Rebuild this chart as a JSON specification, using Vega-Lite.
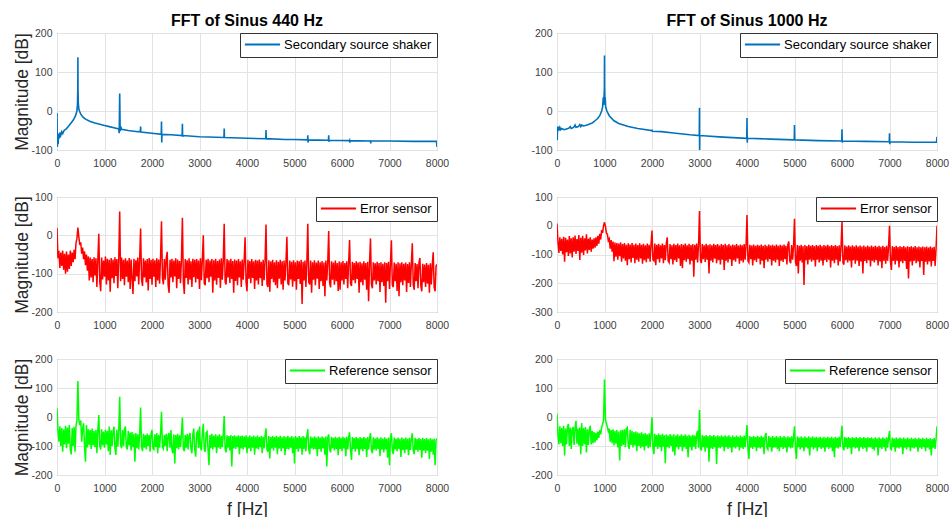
{
"$schema": "https://vega.github.io/schema/vega-lite/v6.json",
"background": "white",
"padding": {"left": 13, "top": 12, "right": 5, "bottom": 0},
"columns": 2,
"spacing": {"row": 47, "column": 120},
"bounds": "flush",
"resolve": {"scale": {"color": "independent", "x": "independent", "y": "independent"}, "legend": {"color": "independent"}, "axis": {"x": "independent", "y": "independent"}},
"config": {
  "font": "Liberation Sans",
  "view": {"stroke": "#808080", "strokeWidth": 1},
  "axis": {"grid": true, "gridColor": "#e3e3e3", "gridWidth": 1, "domain": false, "ticks": false, "labelFont": "Liberation Sans", "labelFontSize": 10.5, "labelColor": "#3c3c3c", "titleFont": "Liberation Sans", "titleFontSize": 17.5, "titleFontWeight": "normal", "titleColor": "#262626"},
  "axisX": {"labelPadding": 8.5, "titlePadding": 6, "labelFlush": false},
  "axisY": {"labelPadding": 5, "titlePadding": -1},
  "title": {"font": "Liberation Sans", "fontSize": 16, "fontWeight": "bold", "color": "#000000", "anchor": "middle", "offset": -1},
  "legend": {"orient": "top-right", "offset": 0, "padding": 5, "strokeColor": "#333333", "fillColor": "white", "labelFont": "Liberation Sans", "labelFontSize": 13, "labelColor": "#000000", "symbolType": "M-4.4,0H4.4", "symbolSize": 64, "symbolStrokeWidth": 2, "symbolOffset": 11, "labelOffset": 15, "title": null}
},
"datasets": {
"s440": [
{"f":0,"m":-5},{"f":8,"m":-92},{"f":16,"m":-60},{"f":24,"m":-85},{"f":32,"m":-58},{"f":48,"m":-70},{"f":64,"m":-55},{"f":80,"m":-62},{"f":100,"m":-53},{"f":120,"m":-58},{"f":150,"m":-50},{"f":200,"m":-45},{"f":250,"m":-38},{"f":300,"m":-30},{"f":350,"m":-22},{"f":390,"m":-12},{"f":420,"m":0},{"f":432,"m":20},{"f":438,"m":60},{"f":440,"m":138},{"f":442,"m":60},{"f":448,"m":20},{"f":460,"m":5},{"f":480,"m":-2},{"f":500,"m":-8},{"f":550,"m":-16},{"f":600,"m":-21},{"f":700,"m":-27},{"f":800,"m":-31},{"f":900,"m":-34},{"f":1000,"m":-37},{"f":1100,"m":-40},{"f":1200,"m":-43},{"f":1300,"m":-46},{"f":1310,"m":-57},{"f":1320,"m":45},{"f":1330,"m":-52},{"f":1340,"m":-40},{"f":1360,"m":-47},{"f":1500,"m":-50},{"f":1700,"m":-53},{"f":1755,"m":-53},{"f":1760,"m":-40},{"f":1765,"m":-54},{"f":2000,"m":-57},{"f":2195,"m":-60},{"f":2200,"m":-27},{"f":2205,"m":-81},{"f":2210,"m":-60},{"f":2400,"m":-61},{"f":2635,"m":-63},{"f":2640,"m":-33},{"f":2645,"m":-66},{"f":2650,"m":-63},{"f":3000,"m":-66},{"f":3515,"m":-68},{"f":3520,"m":-45},{"f":3525,"m":-68},{"f":4000,"m":-70},{"f":4395,"m":-71},{"f":4400,"m":-49},{"f":4405,"m":-73},{"f":4410,"m":-71},{"f":4800,"m":-73},{"f":5000,"m":-73},{"f":5275,"m":-74},{"f":5280,"m":-62},{"f":5285,"m":-81},{"f":5290,"m":-74},{"f":5715,"m":-75},{"f":5720,"m":-62},{"f":5725,"m":-79},{"f":5730,"m":-75},{"f":6155,"m":-76},{"f":6160,"m":-75},{"f":6165,"m":-81},{"f":6170,"m":-76},{"f":6595,"m":-77},{"f":6600,"m":-75},{"f":6605,"m":-83},{"f":6610,"m":-77},{"f":7000,"m":-77},{"f":7500,"m":-78},{"f":7990,"m":-78},{"f":8000,"m":-92}
],
"s1000": [
{"f":0,"m":-40},{"f":5,"m":-75},{"f":10,"m":-45},{"f":20,"m":-52},{"f":30,"m":-40},{"f":40,"m":-50},{"f":60,"m":-42},{"f":80,"m":-48},{"f":100,"m":-45},{"f":150,"m":-48},{"f":200,"m":-46},{"f":250,"m":-44},{"f":280,"m":-40},{"f":300,"m":-45},{"f":350,"m":-42},{"f":380,"m":-36},{"f":400,"m":-42},{"f":450,"m":-40},{"f":480,"m":-35},{"f":500,"m":-40},{"f":520,"m":-36},{"f":550,"m":-38},{"f":600,"m":-37},{"f":650,"m":-35},{"f":700,"m":-33},{"f":750,"m":-30},{"f":800,"m":-25},{"f":850,"m":-20},{"f":900,"m":-12},{"f":940,"m":0},{"f":960,"m":10},{"f":975,"m":35},{"f":985,"m":15},{"f":992,"m":40},{"f":998,"m":60},{"f":1000,"m":142},{"f":1002,"m":60},{"f":1008,"m":30},{"f":1015,"m":35},{"f":1025,"m":10},{"f":1050,"m":0},{"f":1100,"m":-12},{"f":1200,"m":-25},{"f":1300,"m":-32},{"f":1500,"m":-40},{"f":1700,"m":-45},{"f":1995,"m":-50},{"f":2000,"m":-48},{"f":2005,"m":-52},{"f":2200,"m":-53},{"f":2500,"m":-57},{"f":2800,"m":-61},{"f":2995,"m":-63},{"f":3000,"m":8},{"f":3002,"m":-100},{"f":3005,"m":-63},{"f":3500,"m":-67},{"f":3995,"m":-70},{"f":4000,"m":-18},{"f":4005,"m":-81},{"f":4010,"m":-70},{"f":4500,"m":-72},{"f":4995,"m":-74},{"f":5000,"m":-36},{"f":5005,"m":-76},{"f":5010,"m":-74},{"f":5500,"m":-76},{"f":5995,"m":-77},{"f":6000,"m":-47},{"f":6005,"m":-81},{"f":6010,"m":-77},{"f":6500,"m":-78},{"f":6995,"m":-79},{"f":7000,"m":-57},{"f":7005,"m":-85},{"f":7010,"m":-79},{"f":7500,"m":-80},{"f":7990,"m":-80},{"f":8000,"m":-66}
],
"e440": [
{"f":0,"m":20},{"f":20,"m":-60},{"f":40,"m":-40},{"f":60,"m":-85},{"f":80,"m":-45},{"f":100,"m":-80},{"f":120,"m":-40},{"f":140,"m":-90},{"f":160,"m":-48},{"f":180,"m":-100},{"f":200,"m":-42},{"f":220,"m":-95},{"f":240,"m":-50},{"f":260,"m":-88},{"f":280,"m":-40},{"f":300,"m":-80},{"f":320,"m":-45},{"f":340,"m":-70},{"f":360,"m":-38},{"f":380,"m":-62},{"f":400,"m":-20},{"f":420,"m":-8},{"f":440,"m":20},{"f":460,"m":-4},{"f":480,"m":-25},{"f":500,"m":-18},{"f":520,"m":-48},{"f":540,"m":-32},{"f":560,"m":-62},{"f":580,"m":-42},{"f":600,"m":-78},{"f":620,"m":-50},{"f":640,"m":-92},{"f":660,"m":-55},{"f":680,"m":-118},{"f":700,"m":-58},
{"f":720,"m":-110},{"f":740,"m":-62},{"f":760,"m":-122},{"f":780,"m":-57},{"f":800,"m":-105},{"f":820,"m":-60},{"f":840,"m":-135},{"f":860,"m":-64},{"f":880,"m":4},{"f":900,"m":-120},{"f":920,"m":-146},{"f":940,"m":-58},{"f":960,"m":-115},{"f":980,"m":-66},{"f":1000,"m":-108},{"f":1020,"m":-55},{"f":1040,"m":-128},{"f":1060,"m":-61},{"f":1080,"m":-118},{"f":1100,"m":-64},{"f":1120,"m":-147},{"f":1140,"m":-59},{"f":1160,"m":-112},{"f":1180,"m":-63},{"f":1200,"m":-125},{"f":1220,"m":-57},{"f":1240,"m":-106},{"f":1260,"m":-62},{"f":1280,"m":-138},{"f":1300,"m":-60},{"f":1320,"m":62},{"f":1340,"m":-120},{"f":1360,"m":-58},{"f":1380,"m":-114},{"f":1400,"m":-64},{"f":1420,"m":-130},{"f":1440,"m":-60},{"f":1460,"m":-108},{"f":1480,"m":-66},{"f":1500,"m":-122},{"f":1520,"m":-59},{"f":1540,"m":-140},{"f":1560,"m":-63},{"f":1580,"m":-112},{"f":1600,"m":-153},{"f":1620,"m":-61},{"f":1640,"m":-120},{"f":1660,"m":-65},{"f":1680,"m":-107},{"f":1700,"m":-58},{"f":1720,"m":-128},{"f":1740,"m":-62},{"f":1760,"m":18},{"f":1780,"m":-115},{"f":1800,"m":-132},{"f":1820,"m":-60},{"f":1840,"m":-110},{"f":1860,"m":-66},{"f":1880,"m":-123},{"f":1900,"m":-62},{"f":1920,"m":-144},{"f":1940,"m":-59},{"f":1960,"m":-114},{"f":1980,"m":-64},{"f":2000,"m":-129},{"f":2020,"m":-61},{"f":2040,"m":-108},{"f":2060,"m":-65},{"f":2080,"m":-135},{"f":2100,"m":-60},{"f":2120,"m":-118},{"f":2140,"m":-63},{"f":2160,"m":-126},{"f":2180,"m":-58},{"f":2200,"m":37},{"f":2220,"m":-112},{"f":2240,"m":-128},{"f":2260,"m":-62},{"f":2280,"m":-116},{"f":2300,"m":-60},{"f":2320,"m":-43},{"f":2340,"m":-130},{"f":2360,"m":-150},{"f":2380,"m":-64},{"f":2400,"m":-110},{"f":2420,"m":-61},{"f":2440,"m":-122},{"f":2460,"m":-66},{"f":2480,"m":-107},{"f":2500,"m":-60},{"f":2520,"m":-138},{"f":2540,"m":-63},{"f":2560,"m":-114},{"f":2580,"m":-67},{"f":2600,"m":-125},{"f":2620,"m":-61},{"f":2640,"m":46},{"f":2660,"m":-120},{"f":2680,"m":-153},{"f":2700,"m":-62},{"f":2720,"m":-111},{"f":2740,"m":-65},{"f":2760,"m":-128},{"f":2780,"m":-60},{"f":2800,"m":-116},{"f":2820,"m":-68},{"f":2840,"m":-135},{"f":2860,"m":-61},{"f":2880,"m":-109},{"f":2900,"m":-64},{"f":2920,"m":-123},{"f":2940,"m":-62},{"f":2960,"m":-114},{"f":2980,"m":-66},{"f":3000,"m":-140},{"f":3020,"m":-60},{"f":3040,"m":-117},{"f":3060,"m":-63},{"f":3080,"m":0},{"f":3100,"m":-125},{"f":3120,"m":-130},{"f":3140,"m":-64},{"f":3160,"m":-112},{"f":3180,"m":-61},{"f":3200,"m":-122},{"f":3220,"m":-66},{"f":3240,"m":-108},{"f":3260,"m":-62},{"f":3280,"m":-150},{"f":3300,"m":-65},{"f":3320,"m":-118},{"f":3340,"m":-61},{"f":3360,"m":-129},{"f":3380,"m":-67},{"f":3400,"m":-111},{"f":3420,"m":-63},{"f":3440,"m":-137},{"f":3460,"m":-60},{"f":3480,"m":-116},{"f":3500,"m":-66},{"f":3520,"m":30},{"f":3540,"m":-122},{"f":3560,"m":-128},{"f":3580,"m":-62},{"f":3600,"m":-110},{"f":3620,"m":-65},{"f":3640,"m":-124},{"f":3660,"m":-61},{"f":3680,"m":-114},{"f":3700,"m":-67},{"f":3720,"m":-150},{"f":3740,"m":-63},{"f":3760,"m":-119},{"f":3780,"m":-66},{"f":3800,"m":-130},{"f":3820,"m":-62},{"f":3840,"m":-110},{"f":3860,"m":-68},{"f":3880,"m":-135},{"f":3900,"m":-63},{"f":3920,"m":-116},{"f":3940,"m":-66},{"f":3960,"m":-5},{"f":3980,"m":-122},{"f":4000,"m":-146},{"f":4020,"m":-64},{"f":4040,"m":-113},{"f":4060,"m":-67},{"f":4080,"m":-125},{"f":4100,"m":-62},{"f":4120,"m":-111},{"f":4140,"m":-68},{"f":4160,"m":-140},{"f":4180,"m":-64},{"f":4200,"m":-118},{"f":4220,"m":-66},{"f":4240,"m":-128},{"f":4260,"m":-63},{"f":4280,"m":-112},{"f":4300,"m":-69},{"f":4320,"m":-132},{"f":4340,"m":-64},{"f":4360,"m":-117},{"f":4380,"m":-66},{"f":4400,"m":28},{"f":4420,"m":-128},{"f":4440,"m":-135},{"f":4460,"m":-65},{"f":4480,"m":-147},{"f":4500,"m":-68},{"f":4520,"m":-114},{"f":4540,"m":-64},{"f":4560,"m":-122},{"f":4580,"m":-70},{"f":4600,"m":-130},{"f":4620,"m":-65},{"f":4640,"m":-138},{"f":4660,"m":-69},{"f":4680,"m":-113},{"f":4700,"m":-64},{"f":4720,"m":-128},{"f":4740,"m":-68},{"f":4760,"m":-142},{"f":4780,"m":-66},{"f":4800,"m":-118},{"f":4820,"m":-70},{"f":4840,"m":-4},{"f":4860,"m":-125},{"f":4880,"m":-130},{"f":4900,"m":-66},{"f":4920,"m":-115},{"f":4940,"m":-69},{"f":4960,"m":-134},{"f":4980,"m":-65},{"f":5000,"m":-120},{"f":5020,"m":-70},{"f":5040,"m":-142},{"f":5060,"m":-66},{"f":5080,"m":-114},{"f":5100,"m":-68},{"f":5120,"m":-127},{"f":5140,"m":-64},{"f":5160,"m":-179},{"f":5180,"m":-69},{"f":5200,"m":-118},{"f":5220,"m":-66},{"f":5240,"m":-135},{"f":5260,"m":-70},{"f":5280,"m":30},{"f":5300,"m":-122},{"f":5320,"m":-128},{"f":5340,"m":-66},{"f":5360,"m":-150},{"f":5380,"m":-70},{"f":5400,"m":-116},{"f":5420,"m":-65},{"f":5440,"m":-130},{"f":5460,"m":-71},{"f":5480,"m":-113},{"f":5500,"m":-66},{"f":5520,"m":-140},{"f":5540,"m":-70},{"f":5560,"m":-120},{"f":5580,"m":-67},{"f":5600,"m":-132},{"f":5620,"m":-71},{"f":5640,"m":-159},{"f":5660,"m":-66},{"f":5680,"m":-118},{"f":5700,"m":-70},{"f":5720,"m":11},{"f":5740,"m":-124},{"f":5760,"m":-136},{"f":5780,"m":-68},{"f":5800,"m":-116},{"f":5820,"m":-71},{"f":5840,"m":-129},{"f":5860,"m":-66},{"f":5880,"m":-120},{"f":5900,"m":-72},{"f":5920,"m":-145},{"f":5940,"m":-68},{"f":5960,"m":-142},{"f":5980,"m":-70},{"f":6000,"m":-118},{"f":6020,"m":-67},{"f":6040,"m":-128},{"f":6060,"m":-72},{"f":6080,"m":-114},{"f":6100,"m":-68},{"f":6120,"m":-138},{"f":6140,"m":-70},{"f":6160,"m":-12},{"f":6180,"m":-126},{"f":6200,"m":-132},{"f":6220,"m":-69},{"f":6240,"m":-117},{"f":6260,"m":-72},{"f":6280,"m":-125},{"f":6300,"m":-68},{"f":6320,"m":-114},{"f":6340,"m":-71},{"f":6360,"m":-150},{"f":6380,"m":-69},{"f":6400,"m":-122},{"f":6420,"m":-73},{"f":6440,"m":-130},{"f":6460,"m":-68},{"f":6480,"m":-116},{"f":6500,"m":-72},{"f":6520,"m":-142},{"f":6540,"m":-69},{"f":6560,"m":-172},{"f":6580,"m":-71},{"f":6600,"m":-8},{"f":6620,"m":-128},{"f":6640,"m":-138},{"f":6660,"m":-70},{"f":6680,"m":-118},{"f":6700,"m":-73},{"f":6720,"m":-128},{"f":6740,"m":-69},{"f":6760,"m":-120},{"f":6780,"m":-72},{"f":6800,"m":-148},{"f":6820,"m":-70},{"f":6840,"m":-122},{"f":6860,"m":-74},{"f":6880,"m":-132},{"f":6900,"m":-70},{"f":6920,"m":-176},{"f":6940,"m":-72},{"f":6960,"m":-120},{"f":6980,"m":-69},{"f":7000,"m":-140},{"f":7020,"m":-73},{"f":7040,"m":-13},{"f":7060,"m":-130},{"f":7080,"m":-135},{"f":7100,"m":-71},{"f":7120,"m":-120},{"f":7140,"m":-74},{"f":7160,"m":-145},{"f":7180,"m":-70},{"f":7200,"m":-159},{"f":7220,"m":-73},{"f":7240,"m":-122},{"f":7260,"m":-70},{"f":7280,"m":-130},{"f":7300,"m":-74},{"f":7320,"m":-118},{"f":7340,"m":-71},{"f":7360,"m":-148},{"f":7380,"m":-75},{"f":7400,"m":-124},{"f":7420,"m":-70},{"f":7440,"m":-135},{"f":7460,"m":-74},{"f":7480,"m":-21},{"f":7500,"m":-128},{"f":7520,"m":-142},{"f":7540,"m":-72},{"f":7560,"m":-120},{"f":7580,"m":-75},{"f":7600,"m":-138},{"f":7620,"m":-71},{"f":7640,"m":-59},{"f":7660,"m":-132},{"f":7680,"m":-146},{"f":7700,"m":-74},{"f":7720,"m":-122},{"f":7740,"m":-76},{"f":7760,"m":-135},{"f":7780,"m":-72},{"f":7800,"m":-126},{"f":7820,"m":-77},{"f":7840,"m":-150},{"f":7860,"m":-73},{"f":7880,"m":-128},{"f":7900,"m":-78},{"f":7920,"m":-44},{"f":7940,"m":-135},{"f":7960,"m":-146},{"f":7980,"m":-80},{"f":8000,"m":-76}
],
"e1000": [
{"f":0,"m":8},{"f":20,"m":-55},{"f":40,"m":-95},{"f":60,"m":-40},{"f":80,"m":-88},{"f":100,"m":-45},{"f":120,"m":-100},{"f":140,"m":-38},{"f":160,"m":-125},{"f":180,"m":-42},{"f":200,"m":-92},{"f":220,"m":-48},{"f":240,"m":-105},{"f":260,"m":-36},{"f":280,"m":-96},{"f":300,"m":-44},{"f":320,"m":-110},{"f":340,"m":-40},{"f":360,"m":-90},{"f":380,"m":-34},{"f":400,"m":-98},{"f":420,"m":-46},{"f":440,"m":-88},{"f":460,"m":-32},{"f":480,"m":-119},{"f":500,"m":-42},{"f":520,"m":-94},{"f":540,"m":-35},{"f":560,"m":-102},{"f":580,"m":-44},{"f":600,"m":-86},{"f":620,"m":-30},{"f":640,"m":-96},{"f":660,"m":-45},{"f":680,"m":-84},{"f":700,"m":-40},{"f":720,"m":-90},{"f":740,"m":-48},{"f":760,"m":-80},{"f":780,"m":-44},{"f":800,"m":-76},{"f":820,"m":-40},{"f":840,"m":-70},{"f":860,"m":-35},{"f":880,"m":-62},{"f":900,"m":-28},{"f":920,"m":-48},{"f":940,"m":-15},{"f":960,"m":-25},{"f":980,"m":0},{"f":1000,"m":12},{"f":1020,"m":-2},{"f":1040,"m":-25},{"f":1060,"m":-30},{"f":1080,"m":-52},{"f":1100,"m":-45},{"f":1120,"m":-80},{"f":1140,"m":-50},{"f":1160,"m":-90},{"f":1180,"m":-55},
{"f":1200,"m":-123},{"f":1220,"m":-58},{"f":1240,"m":-108},{"f":1260,"m":-60},{"f":1280,"m":-118},{"f":1300,"m":-62},{"f":1320,"m":-106},{"f":1340,"m":-58},{"f":1360,"m":-125},{"f":1380,"m":-64},{"f":1400,"m":-114},{"f":1420,"m":-60},{"f":1440,"m":-122},{"f":1460,"m":-66},{"f":1480,"m":-137},{"f":1500,"m":-61},{"f":1520,"m":-116},{"f":1540,"m":-65},{"f":1560,"m":-128},{"f":1580,"m":-60},{"f":1600,"m":-112},{"f":1620,"m":-66},{"f":1640,"m":-130},{"f":1660,"m":-62},{"f":1680,"m":-118},{"f":1700,"m":-67},{"f":1720,"m":-125},{"f":1740,"m":-61},{"f":1760,"m":-114},{"f":1780,"m":-66},{"f":1800,"m":-132},{"f":1820,"m":-63},{"f":1840,"m":-120},{"f":1860,"m":-68},{"f":1880,"m":-127},{"f":1900,"m":-62},{"f":1920,"m":-115},{"f":1940,"m":-66},{"f":1960,"m":-125},{"f":1980,"m":-64},{"f":2000,"m":-17},{"f":2020,"m":-118},{"f":2040,"m":-122},{"f":2060,"m":-62},{"f":2080,"m":-137},{"f":2100,"m":-66},{"f":2120,"m":-116},{"f":2140,"m":-63},{"f":2160,"m":-128},{"f":2180,"m":-68},{"f":2200,"m":-114},{"f":2220,"m":-62},{"f":2240,"m":-130},{"f":2260,"m":-67},{"f":2280,"m":-120},{"f":2300,"m":-63},{"f":2320,"m":-40},{"f":2340,"m":-122},{"f":2360,"m":-128},{"f":2380,"m":-64},{"f":2400,"m":-116},{"f":2420,"m":-68},{"f":2440,"m":-135},{"f":2460,"m":-63},{"f":2480,"m":-120},{"f":2500,"m":-67},{"f":2520,"m":-126},{"f":2540,"m":-62},{"f":2560,"m":-114},{"f":2580,"m":-68},{"f":2600,"m":-140},{"f":2620,"m":-64},{"f":2640,"m":-148},{"f":2660,"m":-66},{"f":2680,"m":-120},{"f":2700,"m":-62},{"f":2720,"m":-125},{"f":2740,"m":-68},{"f":2760,"m":-116},{"f":2780,"m":-63},{"f":2800,"m":-135},{"f":2820,"m":-67},{"f":2840,"m":-122},{"f":2860,"m":-64},{"f":2880,"m":-177},{"f":2900,"m":-66},{"f":2920,"m":-118},{"f":2940,"m":-62},{"f":2960,"m":-128},{"f":2980,"m":-66},{"f":3000,"m":51},{"f":3020,"m":-120},{"f":3040,"m":-130},{"f":3060,"m":-64},{"f":3080,"m":-116},{"f":3100,"m":-68},{"f":3120,"m":-126},{"f":3140,"m":-63},{"f":3160,"m":-118},{"f":3180,"m":-67},{"f":3200,"m":-166},{"f":3220,"m":-64},{"f":3240,"m":-122},{"f":3260,"m":-68},{"f":3280,"m":-128},{"f":3300,"m":-63},{"f":3320,"m":-115},{"f":3340,"m":-67},{"f":3360,"m":-130},{"f":3380,"m":-64},{"f":3400,"m":-120},{"f":3420,"m":-69},{"f":3440,"m":-135},{"f":3460,"m":-64},{"f":3480,"m":-118},{"f":3500,"m":-67},{"f":3520,"m":-154},{"f":3540,"m":-63},{"f":3560,"m":-122},{"f":3580,"m":-68},{"f":3600,"m":-128},{"f":3620,"m":-64},{"f":3640,"m":-116},{"f":3660,"m":-69},{"f":3680,"m":-140},{"f":3700,"m":-65},{"f":3720,"m":-120},{"f":3740,"m":-68},{"f":3760,"m":-125},{"f":3780,"m":-64},{"f":3800,"m":-114},{"f":3820,"m":-69},{"f":3840,"m":-132},{"f":3860,"m":-65},{"f":3880,"m":-122},{"f":3900,"m":-68},{"f":3920,"m":-128},{"f":3940,"m":-64},{"f":3960,"m":-118},{"f":3980,"m":-68},{"f":4000,"m":37},{"f":4020,"m":-122},{"f":4040,"m":-128},{"f":4060,"m":-66},{"f":4080,"m":-116},{"f":4100,"m":-69},{"f":4120,"m":-138},{"f":4140,"m":-65},{"f":4160,"m":-120},{"f":4180,"m":-70},{"f":4200,"m":-126},{"f":4220,"m":-66},{"f":4240,"m":-115},{"f":4260,"m":-69},{"f":4280,"m":-135},{"f":4300,"m":-65},{"f":4320,"m":-122},{"f":4340,"m":-70},{"f":4360,"m":-148},{"f":4380,"m":-66},{"f":4400,"m":-118},{"f":4420,"m":-70},{"f":4440,"m":-125},{"f":4460,"m":-65},{"f":4480,"m":-116},{"f":4500,"m":-69},{"f":4520,"m":-138},{"f":4540,"m":-66},{"f":4560,"m":-122},{"f":4580,"m":-70},{"f":4600,"m":-128},{"f":4620,"m":-65},{"f":4640,"m":-118},{"f":4660,"m":-70},{"f":4680,"m":-140},{"f":4700,"m":-66},{"f":4720,"m":-122},{"f":4740,"m":-69},{"f":4760,"m":-126},{"f":4780,"m":-65},{"f":4800,"m":-116},{"f":4820,"m":-70},{"f":4840,"m":-135},{"f":4860,"m":-66},{"f":4880,"m":-55},{"f":4900,"m":-122},{"f":4920,"m":-130},{"f":4940,"m":-67},{"f":4960,"m":-118},{"f":4980,"m":-70},{"f":5000,"m":24},{"f":5020,"m":-125},{"f":5040,"m":-140},{"f":5060,"m":-67},{"f":5080,"m":-166},{"f":5100,"m":-70},{"f":5120,"m":-122},{"f":5140,"m":-66},{"f":5160,"m":-128},{"f":5180,"m":-71},{"f":5200,"m":-206},{"f":5220,"m":-67},{"f":5240,"m":-120},{"f":5260,"m":-71},{"f":5280,"m":-135},{"f":5300,"m":-66},{"f":5320,"m":-118},{"f":5340,"m":-70},{"f":5360,"m":-125},{"f":5380,"m":-67},{"f":5400,"m":-120},{"f":5420,"m":-71},{"f":5440,"m":-142},{"f":5460,"m":-67},{"f":5480,"m":-118},{"f":5500,"m":-70},{"f":5520,"m":-128},{"f":5540,"m":-66},{"f":5560,"m":-122},{"f":5580,"m":-71},{"f":5600,"m":-138},{"f":5620,"m":-67},{"f":5640,"m":-120},{"f":5660,"m":-70},{"f":5680,"m":-126},{"f":5700,"m":-66},{"f":5720,"m":-118},{"f":5740,"m":-71},{"f":5760,"m":-145},{"f":5780,"m":-67},{"f":5800,"m":-122},{"f":5820,"m":-71},{"f":5840,"m":-130},{"f":5860,"m":-67},{"f":5880,"m":-118},{"f":5900,"m":-71},{"f":5920,"m":-138},{"f":5940,"m":-68},{"f":5960,"m":-124},{"f":5980,"m":-71},{"f":6000,"m":13},{"f":6020,"m":-128},{"f":6040,"m":-135},{"f":6060,"m":-68},{"f":6080,"m":-120},{"f":6100,"m":-72},{"f":6120,"m":-128},{"f":6140,"m":-68},{"f":6160,"m":-122},{"f":6180,"m":-72},{"f":6200,"m":-145},{"f":6220,"m":-68},{"f":6240,"m":-120},{"f":6260,"m":-72},{"f":6280,"m":-132},{"f":6300,"m":-68},{"f":6320,"m":-122},{"f":6340,"m":-72},{"f":6360,"m":-140},{"f":6380,"m":-69},{"f":6400,"m":-124},{"f":6420,"m":-72},{"f":6440,"m":-166},{"f":6460,"m":-69},{"f":6480,"m":-122},{"f":6500,"m":-73},{"f":6520,"m":-130},{"f":6540,"m":-69},{"f":6560,"m":-120},{"f":6580,"m":-73},{"f":6600,"m":-142},{"f":6620,"m":-69},{"f":6640,"m":-122},{"f":6660,"m":-73},{"f":6680,"m":-128},{"f":6700,"m":-70},{"f":6720,"m":-120},{"f":6740,"m":-73},{"f":6760,"m":-138},{"f":6780,"m":-70},{"f":6800,"m":-124},{"f":6820,"m":-73},{"f":6840,"m":-148},{"f":6860,"m":-70},{"f":6880,"m":-122},{"f":6900,"m":-74},{"f":6920,"m":-132},{"f":6940,"m":-70},{"f":6960,"m":-122},{"f":6980,"m":-73},{"f":7000,"m":0},{"f":7020,"m":-125},{"f":7040,"m":-154},{"f":7060,"m":-71},{"f":7080,"m":-122},{"f":7100,"m":-74},{"f":7120,"m":-135},{"f":7140,"m":-70},{"f":7160,"m":-122},{"f":7180,"m":-74},{"f":7200,"m":-145},{"f":7220,"m":-71},{"f":7240,"m":-124},{"f":7260,"m":-74},{"f":7280,"m":-130},{"f":7300,"m":-71},{"f":7320,"m":-122},{"f":7340,"m":-75},{"f":7360,"m":-150},{"f":7380,"m":-71},{"f":7400,"m":-183},{"f":7420,"m":-74},{"f":7440,"m":-124},{"f":7460,"m":-71},{"f":7480,"m":-138},{"f":7500,"m":-75},{"f":7520,"m":-122},{"f":7540,"m":-71},{"f":7560,"m":-130},{"f":7580,"m":-75},{"f":7600,"m":-124},{"f":7620,"m":-72},{"f":7640,"m":-145},{"f":7660,"m":-75},{"f":7680,"m":-122},{"f":7700,"m":-72},{"f":7720,"m":-171},{"f":7740,"m":-75},{"f":7760,"m":-125},{"f":7780,"m":-72},{"f":7800,"m":-135},{"f":7820,"m":-76},{"f":7840,"m":-124},{"f":7860,"m":-72},{"f":7880,"m":-142},{"f":7900,"m":-76},{"f":7920,"m":-122},{"f":7940,"m":-73},{"f":7960,"m":-140},{"f":7980,"m":-80},{"f":8000,"m":0}
],
"r440": [
{"f":0,"m":30},{"f":20,"m":-45},{"f":40,"m":-85},{"f":60,"m":-32},{"f":80,"m":-100},{"f":100,"m":-38},{"f":120,"m":-120},{"f":140,"m":-42},{"f":160,"m":-95},{"f":180,"m":-30},{"f":200,"m":-108},{"f":220,"m":-36},{"f":240,"m":-92},{"f":260,"m":-28},{"f":280,"m":-112},{"f":300,"m":-129},{"f":320,"m":-38},{"f":340,"m":-100},{"f":360,"m":-34},{"f":380,"m":-120},{"f":400,"m":-30},{"f":420,"m":-10},{"f":440,"m":124},{"f":460,"m":-10},{"f":480,"m":-28},{"f":500,"m":-12},{"f":520,"m":-85},{"f":540,"m":-40},{"f":560,"m":-22},{"f":580,"m":-102},{"f":600,"m":-154},{"f":620,"m":-28},{"f":640,"m":-105},{"f":660,"m":-42},{"f":680,"m":-96},{"f":700,"m":-45},{"f":720,"m":-110},{"f":740,"m":-40},{"f":760,"m":-98},{"f":780,"m":-48},{"f":800,"m":-104},{"f":820,"m":-44},{"f":840,"m":-125},{"f":860,"m":-46},{"f":880,"m":7},{"f":900,"m":-100},{"f":920,"m":-112},{"f":940,"m":-42},{"f":960,"m":-98},{"f":980,"m":-50},{"f":1000,"m":-106},{"f":1020,"m":-44},{"f":1040,"m":-95},{"f":1060,"m":-48},{"f":1080,"m":-118},{"f":1100,"m":-33},{"f":1120,"m":-131},{"f":1140,"m":-46},{"f":1160,"m":-100},{"f":1180,"m":-50},{"f":1200,"m":-33},{"f":1220,"m":-108},{"f":1240,"m":-131},{"f":1260,"m":-44},{"f":1280,"m":-102},{"f":1300,"m":-48},{"f":1320,"m":70},{"f":1340,"m":-96},{"f":1360,"m":-108},{"f":1380,"m":-45},{"f":1400,"m":-100},{"f":1420,"m":-42},{"f":1440,"m":-33},{"f":1460,"m":-104},{"f":1480,"m":-112},{"f":1500,"m":-48},{"f":1520,"m":-98},{"f":1540,"m":-54},{"f":1560,"m":-115},{"f":1580,"m":-52},{"f":1600,"m":-104},{"f":1620,"m":-58},{"f":1640,"m":-154},{"f":1660,"m":-55},{"f":1680,"m":-108},{"f":1700,"m":-60},{"f":1720,"m":-112},{"f":1740,"m":-56},{"f":1760,"m":33},{"f":1780,"m":-102},{"f":1800,"m":-118},{"f":1820,"m":-58},{"f":1840,"m":-106},{"f":1860,"m":-62},{"f":1880,"m":-112},{"f":1900,"m":-57},{"f":1920,"m":-100},{"f":1940,"m":-62},{"f":1960,"m":-120},{"f":1980,"m":-58},{"f":2000,"m":-45},{"f":2020,"m":-108},{"f":2040,"m":-112},{"f":2060,"m":-60},{"f":2080,"m":-104},{"f":2100,"m":-55},{"f":2120,"m":-125},{"f":2140,"m":-61},{"f":2160,"m":-106},{"f":2180,"m":-58},{"f":2200,"m":18},{"f":2220,"m":-104},{"f":2240,"m":-110},{"f":2260,"m":-62},{"f":2280,"m":-100},{"f":2300,"m":-58},{"f":2320,"m":-118},{"f":2340,"m":-63},{"f":2360,"m":-55},{"f":2380,"m":-106},{"f":2400,"m":-45},{"f":2420,"m":-112},{"f":2440,"m":-125},{"f":2460,"m":-60},{"f":2480,"m":-160},{"f":2500,"m":-62},{"f":2520,"m":-108},{"f":2540,"m":-58},{"f":2560,"m":-112},{"f":2580,"m":-63},{"f":2600,"m":-104},{"f":2620,"m":-60},{"f":2640,"m":-2},{"f":2660,"m":-110},{"f":2680,"m":-118},{"f":2700,"m":-62},{"f":2720,"m":-106},{"f":2740,"m":-58},{"f":2760,"m":-112},{"f":2780,"m":-64},{"f":2800,"m":-55},{"f":2820,"m":-108},{"f":2840,"m":-125},{"f":2860,"m":-60},{"f":2880,"m":-40},{"f":2900,"m":-112},{"f":2920,"m":-137},{"f":2940,"m":-56},{"f":2960,"m":-50},{"f":2980,"m":-108},{"f":3000,"m":-33},{"f":3020,"m":-104},{"f":3040,"m":-115},{"f":3060,"m":-58},{"f":3080,"m":-23},{"f":3100,"m":-110},{"f":3120,"m":-120},{"f":3140,"m":-54},{"f":3160,"m":-50},{"f":3180,"m":-112},{"f":3200,"m":-166},{"f":3220,"m":-62},{"f":3240,"m":-108},{"f":3260,"m":-58},{"f":3280,"m":-112},{"f":3300,"m":-64},{"f":3320,"m":-104},{"f":3340,"m":-60},{"f":3360,"m":-125},{"f":3380,"m":-64},{"f":3400,"m":-106},{"f":3420,"m":-60},{"f":3440,"m":-110},{"f":3460,"m":-65},{"f":3480,"m":-104},{"f":3500,"m":-62},{"f":3520,"m":3},{"f":3540,"m":-112},{"f":3560,"m":-122},{"f":3580,"m":-63},{"f":3600,"m":-106},{"f":3620,"m":-66},{"f":3640,"m":-115},{"f":3660,"m":-62},{"f":3680,"m":-171},{"f":3700,"m":-66},{"f":3720,"m":-108},{"f":3740,"m":-63},{"f":3760,"m":-110},{"f":3780,"m":-67},{"f":3800,"m":-104},{"f":3820,"m":-63},{"f":3840,"m":-128},{"f":3860,"m":-66},{"f":3880,"m":-108},{"f":3900,"m":-64},{"f":3920,"m":-112},{"f":3940,"m":-67},{"f":3960,"m":-104},{"f":3980,"m":-63},{"f":4000,"m":-125},{"f":4020,"m":-68},{"f":4040,"m":-108},{"f":4060,"m":-64},{"f":4080,"m":-118},{"f":4100,"m":-68},{"f":4120,"m":-106},{"f":4140,"m":-64},{"f":4160,"m":-130},{"f":4180,"m":-68},{"f":4200,"m":-108},{"f":4220,"m":-64},{"f":4240,"m":-112},{"f":4260,"m":-69},{"f":4280,"m":-104},{"f":4300,"m":-65},{"f":4320,"m":-125},{"f":4340,"m":-68},{"f":4360,"m":-108},{"f":4380,"m":-64},{"f":4400,"m":-39},{"f":4420,"m":-112},{"f":4440,"m":-120},{"f":4460,"m":-66},{"f":4480,"m":-143},{"f":4500,"m":-69},{"f":4520,"m":-108},{"f":4540,"m":-65},{"f":4560,"m":-115},{"f":4580,"m":-69},{"f":4600,"m":-106},{"f":4620,"m":-65},{"f":4640,"m":-128},{"f":4660,"m":-69},{"f":4680,"m":-108},{"f":4700,"m":-65},{"f":4720,"m":-118},{"f":4740,"m":-70},{"f":4760,"m":-108},{"f":4780,"m":-66},{"f":4800,"m":-132},{"f":4820,"m":-69},{"f":4840,"m":-110},{"f":4860,"m":-65},{"f":4880,"m":-112},{"f":4900,"m":-70},{"f":4920,"m":-106},{"f":4940,"m":-66},{"f":4960,"m":-125},{"f":4980,"m":-70},{"f":5000,"m":-160},{"f":5020,"m":-66},{"f":5040,"m":-110},{"f":5060,"m":-70},{"f":5080,"m":-120},{"f":5100,"m":-66},{"f":5120,"m":-108},{"f":5140,"m":-70},{"f":5160,"m":-130},{"f":5180,"m":-66},{"f":5200,"m":-110},{"f":5220,"m":-70},{"f":5240,"m":-118},{"f":5260,"m":-66},{"f":5280,"m":-42},{"f":5300,"m":-112},{"f":5320,"m":-128},{"f":5340,"m":-67},{"f":5360,"m":-108},{"f":5380,"m":-71},{"f":5400,"m":-112},{"f":5420,"m":-67},{"f":5440,"m":-110},{"f":5460,"m":-71},{"f":5480,"m":-135},{"f":5500,"m":-67},{"f":5520,"m":-110},{"f":5540,"m":-71},{"f":5560,"m":-120},{"f":5580,"m":-67},{"f":5600,"m":-108},{"f":5620,"m":-71},{"f":5640,"m":-130},{"f":5660,"m":-67},{"f":5680,"m":-171},{"f":5700,"m":-70},{"f":5720,"m":-60},{"f":5740,"m":-112},{"f":5760,"m":-122},{"f":5780,"m":-68},{"f":5800,"m":-108},{"f":5820,"m":-72},{"f":5840,"m":-115},{"f":5860,"m":-68},{"f":5880,"m":-110},{"f":5900,"m":-72},{"f":5920,"m":-132},{"f":5940,"m":-68},{"f":5960,"m":-110},{"f":5980,"m":-72},{"f":6000,"m":-118},{"f":6020,"m":-68},{"f":6040,"m":-108},{"f":6060,"m":-72},{"f":6080,"m":-135},{"f":6100,"m":-68},{"f":6120,"m":-112},{"f":6140,"m":-72},{"f":6160,"m":-53},{"f":6180,"m":-115},{"f":6200,"m":-148},{"f":6220,"m":-69},{"f":6240,"m":-110},{"f":6260,"m":-73},{"f":6280,"m":-120},{"f":6300,"m":-69},{"f":6320,"m":-110},{"f":6340,"m":-73},{"f":6360,"m":-132},{"f":6380,"m":-69},{"f":6400,"m":-112},{"f":6420,"m":-73},{"f":6440,"m":-118},{"f":6460,"m":-69},{"f":6480,"m":-110},{"f":6500,"m":-73},{"f":6520,"m":-138},{"f":6540,"m":-69},{"f":6560,"m":-112},{"f":6580,"m":-73},{"f":6600,"m":-56},{"f":6620,"m":-115},{"f":6640,"m":-125},{"f":6660,"m":-70},{"f":6680,"m":-112},{"f":6700,"m":-74},{"f":6720,"m":-115},{"f":6740,"m":-70},{"f":6760,"m":-110},{"f":6780,"m":-74},{"f":6800,"m":-135},{"f":6820,"m":-70},{"f":6840,"m":-112},{"f":6860,"m":-74},{"f":6880,"m":-122},{"f":6900,"m":-70},{"f":6920,"m":-112},{"f":6940,"m":-74},{"f":6960,"m":-140},{"f":6980,"m":-71},{"f":7000,"m":-166},{"f":7020,"m":-74},{"f":7040,"m":-56},{"f":7060,"m":-115},{"f":7080,"m":-128},{"f":7100,"m":-71},{"f":7120,"m":-112},{"f":7140,"m":-75},{"f":7160,"m":-118},{"f":7180,"m":-71},{"f":7200,"m":-110},{"f":7220,"m":-75},{"f":7240,"m":-138},{"f":7260,"m":-71},{"f":7280,"m":-114},{"f":7300,"m":-75},{"f":7320,"m":-125},{"f":7340,"m":-71},{"f":7360,"m":-112},{"f":7380,"m":-75},{"f":7400,"m":-132},{"f":7420,"m":-72},{"f":7440,"m":-114},{"f":7460,"m":-75},{"f":7480,"m":-56},{"f":7500,"m":-116},{"f":7520,"m":-128},{"f":7540,"m":-72},{"f":7560,"m":-114},{"f":7580,"m":-76},{"f":7600,"m":-120},{"f":7620,"m":-72},{"f":7640,"m":-114},{"f":7660,"m":-76},{"f":7680,"m":-140},{"f":7700,"m":-72},{"f":7720,"m":-116},{"f":7740,"m":-76},{"f":7760,"m":-125},{"f":7780,"m":-73},{"f":7800,"m":-116},{"f":7820,"m":-77},{"f":7840,"m":-145},{"f":7860,"m":-73},{"f":7880,"m":-120},{"f":7900,"m":-77},{"f":7920,"m":-130},{"f":7940,"m":-74},{"f":7960,"m":-166},{"f":7980,"m":-80},{"f":8000,"m":-74}
],
"r1000": [
{"f":0,"m":12},{"f":20,"m":-60},{"f":40,"m":-95},{"f":60,"m":-32},{"f":80,"m":-90},{"f":100,"m":-38},{"f":120,"m":-100},{"f":140,"m":-30},{"f":160,"m":-133},{"f":180,"m":-40},{"f":200,"m":-95},{"f":220,"m":-34},{"f":240,"m":-24},{"f":260,"m":-100},{"f":280,"m":-36},{"f":300,"m":-110},{"f":320,"m":-42},{"f":340,"m":-35},{"f":360,"m":-96},{"f":380,"m":-38},{"f":400,"m":-13},{"f":420,"m":-92},{"f":440,"m":-40},{"f":460,"m":-98},{"f":480,"m":-36},{"f":500,"m":-128},{"f":520,"m":-21},{"f":540,"m":-100},{"f":560,"m":-38},{"f":580,"m":-94},{"f":600,"m":-35},{"f":620,"m":-122},{"f":640,"m":-42},{"f":660,"m":-96},{"f":680,"m":-45},{"f":700,"m":-30},{"f":720,"m":-95},{"f":740,"m":-48},{"f":760,"m":-90},{"f":780,"m":-52},{"f":800,"m":-88},{"f":820,"m":-55},{"f":840,"m":-80},{"f":860,"m":-50},{"f":880,"m":-72},{"f":900,"m":-45},{"f":920,"m":-60},{"f":940,"m":-35},{"f":960,"m":-25},{"f":980,"m":-10},{"f":1000,"m":129},{"f":1020,"m":-8},{"f":1040,"m":-22},{"f":1060,"m":-35},{"f":1080,"m":-50},{"f":1100,"m":-40},{"f":1120,"m":-85},{"f":1140,"m":-45},{"f":1160,"m":-90},{"f":1180,"m":-42},{"f":1200,"m":-98},{"f":1220,"m":-48},{"f":1240,"m":-92},{"f":1260,"m":-45},{"f":1280,"m":-105},{"f":1300,"m":-50},{"f":1320,"m":-150},{"f":1340,"m":-46},{"f":1360,"m":-100},{"f":1380,"m":-44},{"f":1400,"m":-96},{"f":1420,"m":-42},{"f":1440,"m":-104},{"f":1460,"m":-40},{"f":1480,"m":-36},{"f":1500,"m":-98},{"f":1520,"m":-110},{"f":1540,"m":-44},{"f":1560,"m":-96},{"f":1580,"m":-48},{"f":1600,"m":-105},{"f":1620,"m":-52},{"f":1640,"m":-98},{"f":1660,"m":-50},{"f":1680,"m":-118},{"f":1700,"m":-54},{"f":1720,"m":-100},{"f":1740,"m":-56},{"f":1760,"m":-108},{"f":1780,"m":-53},{"f":1800,"m":-102},{"f":1820,"m":-58},{"f":1840,"m":-115},{"f":1860,"m":-55},{"f":1880,"m":-100},{"f":1900,"m":-60},{"f":1920,"m":-108},{"f":1940,"m":-56},{"f":1960,"m":-104},{"f":1980,"m":-60},{"f":2000,"m":-1},{"f":2020,"m":-106},{"f":2040,"m":-128},{"f":2060,"m":-58},{"f":2080,"m":-102},{"f":2100,"m":-62},{"f":2120,"m":-110},{"f":2140,"m":-57},{"f":2160,"m":-104},{"f":2180,"m":-62},{"f":2200,"m":-118},{"f":2220,"m":-58},{"f":2240,"m":-102},{"f":2260,"m":-63},{"f":2280,"m":-159},{"f":2300,"m":-60},{"f":2320,"m":-104},{"f":2340,"m":-64},{"f":2360,"m":-108},{"f":2380,"m":-59},{"f":2400,"m":-100},{"f":2420,"m":-64},{"f":2440,"m":-120},{"f":2460,"m":-60},{"f":2480,"m":-133},{"f":2500,"m":-64},{"f":2520,"m":-104},{"f":2540,"m":-60},{"f":2560,"m":-112},{"f":2580,"m":-65},{"f":2600,"m":-102},{"f":2620,"m":-60},{"f":2640,"m":-118},{"f":2660,"m":-64},{"f":2680,"m":-104},{"f":2700,"m":-60},{"f":2720,"m":-110},{"f":2740,"m":-65},{"f":2760,"m":-139},{"f":2780,"m":-61},{"f":2800,"m":-104},{"f":2820,"m":-65},{"f":2840,"m":-115},{"f":2860,"m":-61},{"f":2880,"m":-102},{"f":2900,"m":-64},{"f":2920,"m":-110},{"f":2940,"m":-58},{"f":2960,"m":-47},{"f":2980,"m":-106},{"f":3000,"m":24},{"f":3020,"m":-108},{"f":3040,"m":-115},{"f":3060,"m":-62},{"f":3080,"m":-104},{"f":3100,"m":-66},{"f":3120,"m":-120},{"f":3140,"m":-62},{"f":3160,"m":-106},{"f":3180,"m":-66},{"f":3200,"m":-154},{"f":3220,"m":-62},{"f":3240,"m":-108},{"f":3260,"m":-66},{"f":3280,"m":-110},{"f":3300,"m":-62},{"f":3320,"m":-104},{"f":3340,"m":-67},{"f":3360,"m":-162},{"f":3380,"m":-63},{"f":3400,"m":-106},{"f":3420,"m":-67},{"f":3440,"m":-108},{"f":3460,"m":-63},{"f":3480,"m":-102},{"f":3500,"m":-67},{"f":3520,"m":-118},{"f":3540,"m":-63},{"f":3560,"m":-104},{"f":3580,"m":-67},{"f":3600,"m":-110},{"f":3620,"m":-63},{"f":3640,"m":-106},{"f":3660,"m":-68},{"f":3680,"m":-122},{"f":3700,"m":-64},{"f":3720,"m":-104},{"f":3740,"m":-68},{"f":3760,"m":-108},{"f":3780,"m":-64},{"f":3800,"m":-102},{"f":3820,"m":-68},{"f":3840,"m":-115},{"f":3860,"m":-64},{"f":3880,"m":-106},{"f":3900,"m":-68},{"f":3920,"m":-110},{"f":3940,"m":-64},{"f":3960,"m":-104},{"f":3980,"m":-67},{"f":4000,"m":-28},{"f":4020,"m":-108},{"f":4040,"m":-145},{"f":4060,"m":-66},{"f":4080,"m":-106},{"f":4100,"m":-69},{"f":4120,"m":-110},{"f":4140,"m":-65},{"f":4160,"m":-104},{"f":4180,"m":-69},{"f":4200,"m":-118},{"f":4220,"m":-65},{"f":4240,"m":-106},{"f":4260,"m":-69},{"f":4280,"m":-108},{"f":4300,"m":-65},{"f":4320,"m":-104},{"f":4340,"m":-69},{"f":4360,"m":-128},{"f":4380,"m":-66},{"f":4400,"m":-55},{"f":4420,"m":-106},{"f":4440,"m":-112},{"f":4460,"m":-66},{"f":4480,"m":-104},{"f":4500,"m":-70},{"f":4520,"m":-120},{"f":4540,"m":-66},{"f":4560,"m":-106},{"f":4580,"m":-70},{"f":4600,"m":-105},{"f":4620,"m":-66},{"f":4640,"m":-110},{"f":4660,"m":-70},{"f":4680,"m":-118},{"f":4700,"m":-66},{"f":4720,"m":-104},{"f":4740,"m":-70},{"f":4760,"m":-110},{"f":4780,"m":-66},{"f":4800,"m":-106},{"f":4820,"m":-70},{"f":4840,"m":-122},{"f":4860,"m":-67},{"f":4880,"m":-104},{"f":4900,"m":-70},{"f":4920,"m":-108},{"f":4940,"m":-67},{"f":4960,"m":-106},{"f":4980,"m":-70},{"f":5000,"m":-32},{"f":5020,"m":-108},{"f":5040,"m":-145},{"f":5060,"m":-67},{"f":5080,"m":-104},{"f":5100,"m":-71},{"f":5120,"m":-112},{"f":5140,"m":-67},{"f":5160,"m":-106},{"f":5180,"m":-71},{"f":5200,"m":-118},{"f":5220,"m":-67},{"f":5240,"m":-104},{"f":5260,"m":-71},{"f":5280,"m":-108},{"f":5300,"m":-67},{"f":5320,"m":-133},{"f":5340,"m":-71},{"f":5360,"m":-104},{"f":5380,"m":-67},{"f":5400,"m":-112},{"f":5420,"m":-71},{"f":5440,"m":-106},{"f":5460,"m":-68},{"f":5480,"m":-118},{"f":5500,"m":-71},{"f":5520,"m":-104},{"f":5540,"m":-68},{"f":5560,"m":-110},{"f":5580,"m":-72},{"f":5600,"m":-106},{"f":5620,"m":-68},{"f":5640,"m":-120},{"f":5660,"m":-72},{"f":5680,"m":-104},{"f":5700,"m":-68},{"f":5720,"m":-110},{"f":5740,"m":-72},{"f":5760,"m":-106},{"f":5780,"m":-68},{"f":5800,"m":-118},{"f":5820,"m":-72},{"f":5840,"m":-139},{"f":5860,"m":-68},{"f":5880,"m":-106},{"f":5900,"m":-72},{"f":5920,"m":-108},{"f":5940,"m":-68},{"f":5960,"m":-104},{"f":5980,"m":-71},{"f":6000,"m":-30},{"f":6020,"m":-106},{"f":6040,"m":-115},{"f":6060,"m":-69},{"f":6080,"m":-104},{"f":6100,"m":-72},{"f":6120,"m":-110},{"f":6140,"m":-69},{"f":6160,"m":-106},{"f":6180,"m":-73},{"f":6200,"m":-128},{"f":6220,"m":-69},{"f":6240,"m":-104},{"f":6260,"m":-73},{"f":6280,"m":-108},{"f":6300,"m":-69},{"f":6320,"m":-106},{"f":6340,"m":-73},{"f":6360,"m":-118},{"f":6380,"m":-69},{"f":6400,"m":-104},{"f":6420,"m":-73},{"f":6440,"m":-110},{"f":6460,"m":-69},{"f":6480,"m":-106},{"f":6500,"m":-73},{"f":6520,"m":-120},{"f":6540,"m":-70},{"f":6560,"m":-104},{"f":6580,"m":-73},{"f":6600,"m":-105},{"f":6620,"m":-70},{"f":6640,"m":-110},{"f":6660,"m":-74},{"f":6680,"m":-115},{"f":6700,"m":-70},{"f":6720,"m":-104},{"f":6740,"m":-74},{"f":6760,"m":-133},{"f":6780,"m":-70},{"f":6800,"m":-106},{"f":6820,"m":-74},{"f":6840,"m":-110},{"f":6860,"m":-70},{"f":6880,"m":-104},{"f":6900,"m":-74},{"f":6920,"m":-118},{"f":6940,"m":-70},{"f":6960,"m":-106},{"f":6980,"m":-73},{"f":7000,"m":-48},{"f":7020,"m":-108},{"f":7040,"m":-112},{"f":7060,"m":-71},{"f":7080,"m":-104},{"f":7100,"m":-74},{"f":7120,"m":-120},{"f":7140,"m":-71},{"f":7160,"m":-106},{"f":7180,"m":-74},{"f":7200,"m":-108},{"f":7220,"m":-71},{"f":7240,"m":-104},{"f":7260,"m":-74},{"f":7280,"m":-128},{"f":7300,"m":-71},{"f":7320,"m":-106},{"f":7340,"m":-75},{"f":7360,"m":-112},{"f":7380,"m":-71},{"f":7400,"m":-104},{"f":7420,"m":-75},{"f":7440,"m":-118},{"f":7460,"m":-72},{"f":7480,"m":-106},{"f":7500,"m":-75},{"f":7520,"m":-108},{"f":7540,"m":-72},{"f":7560,"m":-104},{"f":7580,"m":-75},{"f":7600,"m":-120},{"f":7620,"m":-72},{"f":7640,"m":-106},{"f":7660,"m":-75},{"f":7680,"m":-110},{"f":7700,"m":-72},{"f":7720,"m":-104},{"f":7740,"m":-76},{"f":7760,"m":-118},{"f":7780,"m":-72},{"f":7800,"m":-106},{"f":7820,"m":-76},{"f":7840,"m":-112},{"f":7860,"m":-73},{"f":7880,"m":-133},{"f":7900,"m":-76},{"f":7920,"m":-106},{"f":7940,"m":-73},{"f":7960,"m":-110},{"f":7980,"m":-76},{"f":8000,"m":-32}
]
},
"concat": [
{
  "width": 380, "height": 117,
  "title": "FFT of Sinus 440 Hz",
  "data": {"name": "s440"},
  "mark": {"type": "line", "strokeWidth": 1.6, "clip": true},
  "encoding": {
    "x": {"field": "f", "type": "quantitative", "scale": {"domain": [0, 8000], "nice": false, "zero": false}, "axis": {"values": [0,1000,2000,3000,4000,5000,6000,7000,8000], "title": null, "labelExpr": "datum.value + ''"}},
    "y": {"field": "m", "type": "quantitative", "scale": {"domain": [-100, 200], "nice": false, "zero": false}, "axis": {"values": [-100,0,100,200], "title": "Magnitude [dB]", "labelExpr": "datum.value + ''"}},
    "color": {"datum": "Secondary source shaker", "type": "nominal", "scale": {"range": ["#0072BD"]}, "legend": {"title": null}}
  }
},
{
  "width": 380, "height": 117,
  "title": "FFT of Sinus 1000 Hz",
  "data": {"name": "s1000"},
  "mark": {"type": "line", "strokeWidth": 1.6, "clip": true},
  "encoding": {
    "x": {"field": "f", "type": "quantitative", "scale": {"domain": [0, 8000], "nice": false, "zero": false}, "axis": {"values": [0,1000,2000,3000,4000,5000,6000,7000,8000], "title": null, "labelExpr": "datum.value + ''"}},
    "y": {"field": "m", "type": "quantitative", "scale": {"domain": [-100, 200], "nice": false, "zero": false}, "axis": {"values": [-100,0,100,200], "title": null, "labelExpr": "datum.value + ''"}},
    "color": {"datum": "Secondary source shaker", "type": "nominal", "scale": {"range": ["#0072BD"]}, "legend": {"title": null}}
  }
},
{
  "width": 380, "height": 115,
  "data": {"name": "e440"},
  "mark": {"type": "line", "strokeWidth": 1.5, "clip": true},
  "encoding": {
    "x": {"field": "f", "type": "quantitative", "scale": {"domain": [0, 8000], "nice": false, "zero": false}, "axis": {"values": [0,1000,2000,3000,4000,5000,6000,7000,8000], "title": null, "labelExpr": "datum.value + ''"}},
    "y": {"field": "m", "type": "quantitative", "scale": {"domain": [-200, 100], "nice": false, "zero": false}, "axis": {"values": [-200,-100,0,100], "title": "Magnitude [dB]", "labelExpr": "datum.value + ''"}},
    "color": {"datum": "Error sensor", "type": "nominal", "scale": {"range": ["#FF0000"]}, "legend": {"title": null}}
  }
},
{
  "width": 380, "height": 115,
  "data": {"name": "e1000"},
  "mark": {"type": "line", "strokeWidth": 1.5, "clip": true},
  "encoding": {
    "x": {"field": "f", "type": "quantitative", "scale": {"domain": [0, 8000], "nice": false, "zero": false}, "axis": {"values": [0,1000,2000,3000,4000,5000,6000,7000,8000], "title": null, "labelExpr": "datum.value + ''"}},
    "y": {"field": "m", "type": "quantitative", "scale": {"domain": [-300, 100], "nice": false, "zero": false}, "axis": {"values": [-300,-200,-100,0,100], "title": null, "labelExpr": "datum.value + ''"}},
    "color": {"datum": "Error sensor", "type": "nominal", "scale": {"range": ["#FF0000"]}, "legend": {"title": null}}
  }
},
{
  "width": 380, "height": 116,
  "data": {"name": "r440"},
  "mark": {"type": "line", "strokeWidth": 1.5, "clip": true},
  "encoding": {
    "x": {"field": "f", "type": "quantitative", "scale": {"domain": [0, 8000], "nice": false, "zero": false}, "axis": {"values": [0,1000,2000,3000,4000,5000,6000,7000,8000], "title": "f [Hz]", "labelExpr": "datum.value + ''"}},
    "y": {"field": "m", "type": "quantitative", "scale": {"domain": [-200, 200], "nice": false, "zero": false}, "axis": {"values": [-200,-100,0,100,200], "title": "Magnitude [dB]", "labelExpr": "datum.value + ''"}},
    "color": {"datum": "Reference sensor", "type": "nominal", "scale": {"range": ["#00FF00"]}, "legend": {"title": null}}
  }
},
{
  "width": 380, "height": 116,
  "data": {"name": "r1000"},
  "mark": {"type": "line", "strokeWidth": 1.5, "clip": true},
  "encoding": {
    "x": {"field": "f", "type": "quantitative", "scale": {"domain": [0, 8000], "nice": false, "zero": false}, "axis": {"values": [0,1000,2000,3000,4000,5000,6000,7000,8000], "title": "f [Hz]", "labelExpr": "datum.value + ''"}},
    "y": {"field": "m", "type": "quantitative", "scale": {"domain": [-200, 200], "nice": false, "zero": false}, "axis": {"values": [-200,-100,0,100,200], "title": null, "labelExpr": "datum.value + ''"}},
    "color": {"datum": "Reference sensor", "type": "nominal", "scale": {"range": ["#00FF00"]}, "legend": {"title": null}}
  }
}
]
}
